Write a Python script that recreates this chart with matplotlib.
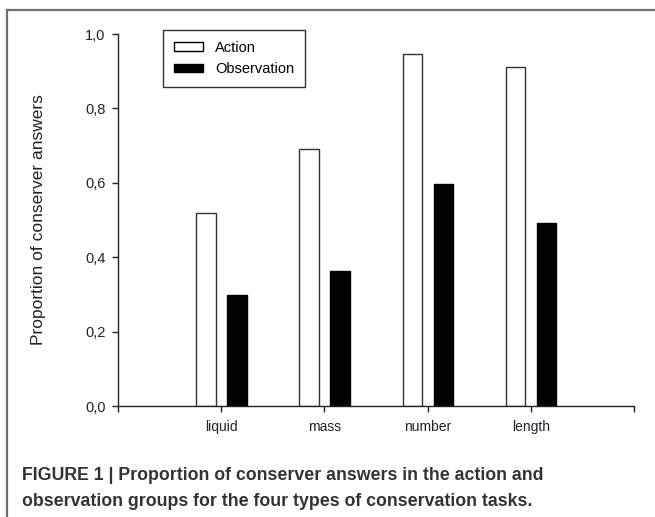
import matplotlib
matplotlib.use("Agg")
import matplotlib.pyplot as plt
import numpy as np
from matplotlib.lines import Line2D
from matplotlib.patches import Patch

categories = ["liquid", "mass", "number", "length"]
action = [0.520, 0.691, 0.946, 0.911]
observation = [0.299, 0.362, 0.598, 0.493]
yticks = [0.0, 0.2, 0.4, 0.6, 0.8, 1.0]
ytick_labels = ["0,0", "0,2", "0,4", "0,6", "0,8", "1,0"]

plt.rcParams['font.family'] = ['Liberation Sans', 'DejaVu Sans']

W, H = 655, 517
fig = plt.figure(figsize=(W / 100, H / 100), dpi=100)
ax = fig.add_axes([118 / W, (H - 406) / H, (634 - 118) / W, (406 - 34) / H])

x = np.arange(1, len(categories) + 1)
bw = 0.19
ax.bar(x - 0.148, action, width=bw, facecolor="white", edgecolor="#333333", linewidth=1.0)
ax.bar(x + 0.153, observation, width=bw, facecolor="black", edgecolor="black", linewidth=1.0)

ax.set_xlim(0, 5)
ax.set_ylim(0, 1.0)
ax.set_xticks([0, 1, 2, 3, 4, 5])
ax.set_xticklabels([""] + categories + [""])
ax.set_yticks(yticks)
ax.set_yticklabels(ytick_labels)
for s in ["top", "right"]:
    ax.spines[s].set_visible(False)
for s in ["left", "bottom"]:
    ax.spines[s].set_linewidth(1.0)
    ax.spines[s].set_color("#222222")
ax.tick_params(axis="both", direction="out", length=4, width=1.0, colors="#222222")
ax.tick_params(axis="x", pad=6, labelsize=10)
ax.tick_params(axis="y", pad=5, labelsize=10.5)
for lbl in ax.get_xticklabels() + ax.get_yticklabels():
    lbl.set_color("#222233")

ax.set_ylabel("Proportion of conserver answers", fontsize=12.5, color="#222222")
ax.yaxis.set_label_coords(-(118 - 46) / (634 - 118), 0.5)

handles = [Patch(facecolor="white", edgecolor="black", linewidth=1.0, label="Action"),
           Patch(facecolor="black", edgecolor="black", linewidth=1.0, label="Observation")]
leg = ax.legend(handles=handles, loc="upper left",
                bbox_to_anchor=((163 - 118) / (634 - 118), (406 - 30) / (406 - 34)),
                fontsize=10.5, frameon=True, fancybox=False, edgecolor="black",
                handlelength=2.0, handleheight=0.55, handletextpad=0.8,
                labelspacing=0.5, borderpad=0.75, borderaxespad=0)
leg.get_frame().set_linewidth(1.0)

# page frame (left and top edges)
fig.add_artist(Line2D([7 / W, 7 / W], [0, 1 - 10 / H], transform=fig.transFigure,
                      color="#707070", linewidth=1.6))
fig.add_artist(Line2D([7 / W, 1], [1 - 10 / H, 1 - 10 / H], transform=fig.transFigure,
                      color="#707070", linewidth=1.6))

fig.text(22 / W, 1 - 476 / H, "FIGURE 1 | Proportion of conserver answers in the action and",
         fontsize=12.8, fontweight="bold", color="#333333", va="center", ha="left")
fig.text(22 / W, 1 - 502 / H, "observation groups for the four types of conservation tasks.",
         fontsize=12.8, fontweight="bold", color="#333333", va="center", ha="left")

fig.savefig("out.png", dpi=100)
